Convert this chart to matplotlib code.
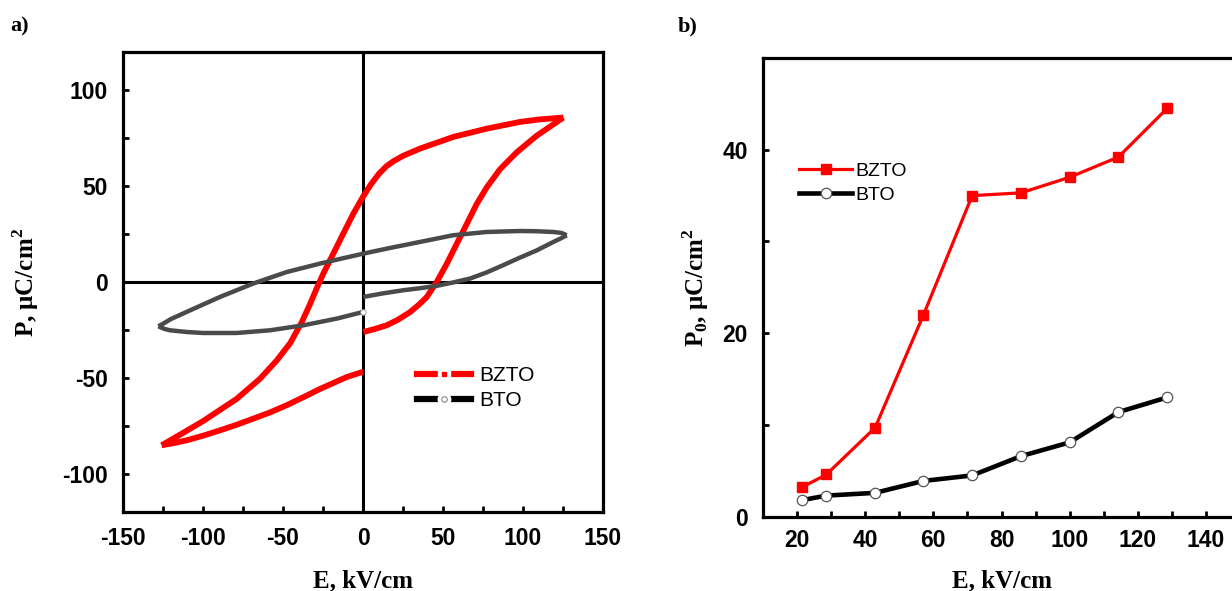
import numpy as np
import matplotlib.pyplot as plt
from matplotlib.lines import Line2D
from matplotlib.legend_handler import HandlerTuple
from matplotlib.ticker import MultipleLocator

plt.rcParams['axes.unicode_minus'] = False

# ---- a) P-E петли: точки, считанные вдоль каждой ветви ----
# BZTO, нижняя правая ветвь (E = 0 -> +Emax)
bzto_lr_E = [0.2, 7, 14.8, 22, 29.4, 35, 39.8, 46.0, 52.3, 58.5, 64.8, 71.0, 77.3, 85.6, 96.0, 108.5, 125.2]
bzto_lr_P = [-26.1, -24.6, -22.6, -19.6, -15.7, -11.8, -7.9, -0.1, 9.4, 19.8, 30.2, 40.6, 49.3, 58.8, 67.6, 76.3, 85.8]
# BZTO, верхняя ветвь (+Emax -> -Emax)
bzto_up_E = [125.2, 110, 98, 77.3, 56.5, 35.6, 25, 19, 14.8, 10, 5, 0, -6.0, -12.3, -18.5, -24.8, -29.0,
             -33.1, -38.3, -45.6, -54.0, -64.4, -79.0, -99.8, -112, -125.8]
bzto_up_P = [85.8, 84.8, 83.5, 80.0, 75.7, 69.6, 65.8, 63.0, 60.5, 56.5, 51.0, 44.5, 35.7, 25.3, 14.9, 4.4, -3.4,
             -11.5, -21.0, -32.0, -41.0, -50.5, -61.0, -72.5, -78.5, -85.2]
# BZTO, нижняя левая ветвь (-Emax -> 0)
bzto_ll_E = [-125.8, -118, -110.2, -100, -89.4, -79, -68.6, -58, -47.7, -37, -26.9, -18, -10.2, 0.2]
bzto_ll_P = [-85.2, -84.0, -82.6, -80.2, -77.4, -74.5, -71.3, -68.0, -64.3, -60.0, -55.8, -52.5, -49.6, -46.8]

# BTO
bto_lr_E = [0.2, 12, 25.2, 36, 46.1, 56, 66.9, 77, 87.7, 98, 108.6, 119.0, 124, 127.3]
bto_lr_P = [-7.8, -6.0, -4.3, -3.2, -2.0, -0.3, 1.8, 4.9, 8.8, 12.7, 16.5, 20.9, 22.9, 24.4]
bto_up_E = [127.3, 124, 119.0, 108, 98.1, 77.3, 56.4, 35.6, 14.8, 0.2, -13, -26.9, -47.7, -68.6, -89.4,
            -110.2, -120, -124.8, -127.9]
bto_up_P = [24.4, 25.6, 26.1, 26.5, 26.6, 26.1, 24.4, 20.9, 17.4, 14.8, 12.3, 9.6, 5.2, -0.8, -7.8,
            -15.6, -19.3, -21.7, -23.1]
bto_ll_E = [-127.9, -124, -120.6, -110, -99.8, -78.9, -58.1, -37.3, -16.4, 0.2]
bto_ll_P = [-23.1, -24.5, -25.2, -26.1, -26.6, -26.6, -25.2, -22.6, -19.1, -15.6]

# ---- b) P0 от E ----
field = [21.4, 28.6, 42.9, 57.1, 71.4, 85.7, 100.0, 114.3, 128.6]
p0_bzto = [3.2, 4.6, 9.7, 22.0, 35.0, 35.3, 37.0, 39.2, 44.5]
p0_bto = [1.8, 2.3, 2.6, 3.9, 4.5, 6.6, 8.1, 11.4, 13.0]

RED = '#ff0000'
GRAY = '#4a4a4a'

tick_font = {'family': 'Liberation Sans', 'weight': 'bold', 'size': 16.5}
label_font = {'family': 'Liberation Serif', 'weight': 'bold', 'size': 18}


def style_axes(ax, xpad, ypad):
    for s in ax.spines.values():
        s.set_linewidth(2.3)
    ax.tick_params(which='both', direction='in', length=4, width=2,
                   top=False, right=False)
    ax.tick_params(axis='x', pad=xpad)
    ax.tick_params(axis='y', pad=ypad)
    for lab in ax.get_xticklabels() + ax.get_yticklabels():
        lab.set_fontproperties(tick_font)


fig = plt.figure(figsize=(12.32, 5.91), dpi=100)

# ---------------- a) ----------------
ax1 = fig.add_axes([123 / 1232, 1 - 512 / 591, 480 / 1232, 460 / 591])
ax1.axhline(0, color='black', lw=2.2, zorder=1)
ax1.axvline(0, color='black', lw=2.2, zorder=1)
for E, P in [(bzto_lr_E, bzto_lr_P), (bzto_up_E, bzto_up_P), (bzto_ll_E, bzto_ll_P)]:
    ax1.plot(E, P, color=RED, lw=4.2, solid_capstyle='butt', solid_joinstyle='round', zorder=2)
for E, P in [(bto_lr_E, bto_lr_P), (bto_up_E, bto_up_P), (bto_ll_E, bto_ll_P)]:
    ax1.plot(E, P, color=GRAY, lw=3.2, solid_capstyle='butt', solid_joinstyle='round', zorder=3)
ax1.plot(bto_ll_E[-1:], bto_ll_P[-1:], 'o', ms=4, mfc='white', mec='#999999', mew=0.6, zorder=4)

ax1.set_xlim(-150, 150)
ax1.set_ylim(-120, 120)
ax1.xaxis.set_major_locator(MultipleLocator(50))
ax1.xaxis.set_minor_locator(MultipleLocator(25))
ax1.yaxis.set_major_locator(MultipleLocator(50))
ax1.yaxis.set_minor_locator(MultipleLocator(25))
style_axes(ax1, 11, 11)
ax1.set_xlabel('E, kV/cm', fontdict=label_font, labelpad=14)
ax1.set_ylabel(r'P, μC/cm$^\mathregular{2}$', fontdict=label_font, labelpad=15)

h_bzto = (Line2D([], [], color=RED, lw=4.5),
          Line2D([], [], ls='none', marker='s', ms=9, mfc='white', mec='white'),
          Line2D([], [], ls='none', marker='s', ms=3.5, mfc=RED, mec=RED))
h_bto = (Line2D([], [], color='black', lw=4.5),
         Line2D([], [], ls='none', marker='o', ms=9, mfc='white', mec='white'),
         Line2D([], [], ls='none', marker='o', ms=4, mfc='white', mec='#888888', mew=0.8))
ax1.legend([h_bzto, h_bto], ['BZTO', 'BTO'], handler_map={tuple: HandlerTuple(ndivide=1, pad=0)},
           loc='upper left', bbox_to_anchor=(0.595, 0.335), frameon=False,
           prop={'family': 'Liberation Sans', 'size': 15}, handlelength=2.6,
           handletextpad=0.4, labelspacing=0.3, borderaxespad=0)

# ---------------- b) ----------------
ax2 = fig.add_axes([763 / 1232, 1 - 516.7 / 591, 477 / 1232, 458.7 / 591])
ax2.plot(field, p0_bzto, color=RED, lw=2.3, marker='s', ms=6.5, mfc=RED, mec=RED,
         label='BZTO', zorder=3)
ax2.plot(field, p0_bto, color='black', lw=3.3, marker='o', ms=7.5, mfc='white',
         mec='#555555', mew=0.9, label='BTO', zorder=2)
ax2.set_xlim(10, 150)
ax2.set_ylim(0, 50)
ax2.xaxis.set_major_locator(MultipleLocator(20))
ax2.xaxis.set_minor_locator(MultipleLocator(10))
ax2.yaxis.set_major_locator(MultipleLocator(20))
ax2.yaxis.set_minor_locator(MultipleLocator(10))
style_axes(ax2, 9, 11)
ax2.set_xlabel('E, kV/cm', fontdict=label_font, labelpad=12)
ax2.set_ylabel(r'P$_\mathregular{0}$, μC/cm$^\mathregular{2}$', fontdict=label_font, labelpad=8)
ax2.legend(loc='upper left', bbox_to_anchor=(0.06, 0.79), frameon=False,
           prop={'family': 'Liberation Sans', 'size': 14}, handlelength=2.7,
           handletextpad=0.2, labelspacing=0.35, borderaxespad=0)

fig.text(10 / 1232, 1 - 26 / 591, 'a)', family='Liberation Serif', weight='bold', size=16, va='center')
fig.text(678 / 1232, 1 - 26 / 591, 'b)', family='Liberation Serif', weight='bold', size=16, va='center')

fig.savefig('out.png', dpi=100)
